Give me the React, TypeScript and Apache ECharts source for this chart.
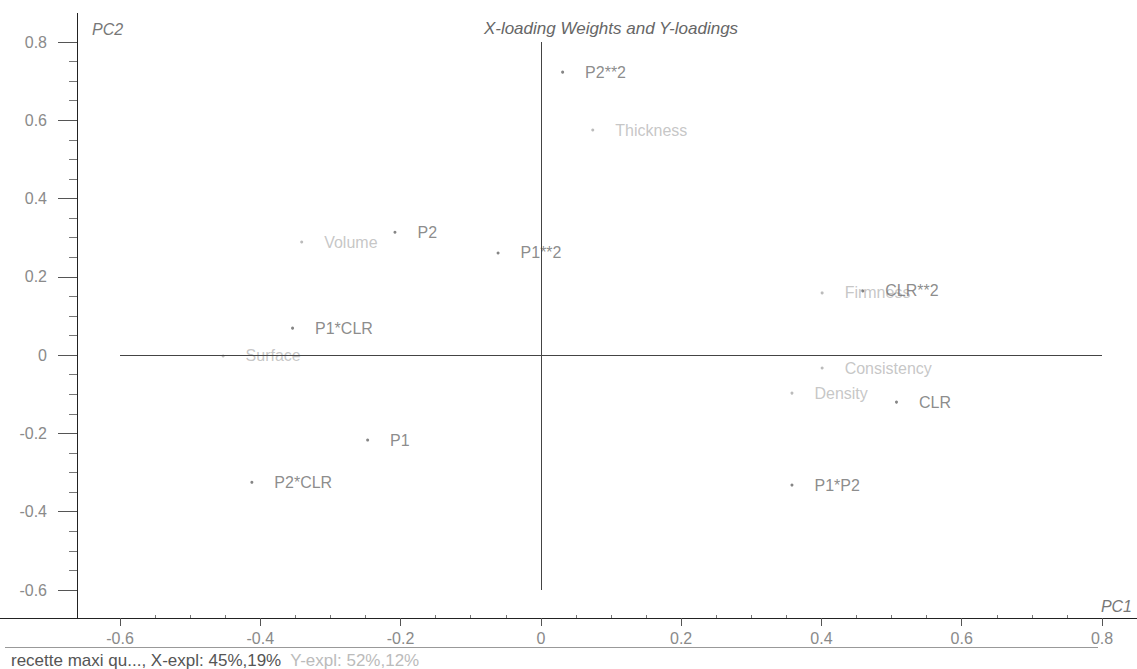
import { useEffect, useRef } from 'react';
import * as echarts from 'echarts';

// PLS loading plot: X-loading weights (process factors) and Y-loadings (responses)
const chartTitle = 'X-loading Weights and Y-loadings';
const xAxisTitle = 'PC1';
const yAxisTitle = 'PC2';

const pcMin = -0.6;
const pcMax = 0.8;
const pcStep = 0.2;

const xWeightNames = ['P1', 'P2', 'CLR', 'P1**2', 'P2**2', 'CLR**2', 'P1*P2', 'P1*CLR', 'P2*CLR'];
const xWeightPC1 = [-0.247, -0.208, 0.507, -0.061, 0.031, 0.459, 0.358, -0.354, -0.412];
const xWeightPC2 = [-0.217, 0.314, -0.12, 0.261, 0.723, 0.164, -0.332, 0.069, -0.325];

const yLoadingNames = ['Volume', 'Thickness', 'Surface', 'Firmness', 'Consistency', 'Density'];
const yLoadingPC1 = [-0.341, 0.074, -0.453, 0.401, 0.401, 0.358];
const yLoadingPC2 = [0.289, 0.575, -0.002, 0.159, -0.033, -0.097];

const footerModel = 'recette maxi qu..., X-expl: 45%,19%';
const footerResponse = 'Y-expl: 52%,12%';

const FONT = 'Arial, "Liberation Sans", Helvetica, sans-serif';

function toPoints(names: string[], pc1: number[], pc2: number[]) {
  return names.map((name, i) => ({ name, value: [pc1[i], pc2[i]] }));
}

export default function App() {
  const ref = useRef<HTMLDivElement>(null);

  useEffect(() => {
    if (!ref.current) return;
    const chart = echarts.init(ref.current, undefined, { renderer: 'svg' });

    const axisLineColor = '#222';
    const tickLabel = { fontSize: 16, color: '#8a8a8a', fontFamily: FONT };

    const option: any = {
      animation: false,
      backgroundColor: '#ffffff',
      textStyle: { fontFamily: FONT },
      title: {
        text: chartTitle,
        left: 611,
        top: 20,
        textAlign: 'center',
        padding: 0,
        textStyle: {
          fontSize: 17,
          fontStyle: 'italic',
          fontWeight: 'normal',
          color: '#666',
          fontFamily: FONT,
        },
      },
      grid: { left: 120, right: 35, top: 42, bottom: 79 },
      xAxis: {
        type: 'value',
        min: pcMin,
        max: pcMax,
        interval: pcStep,
        offset: 28,
        axisLine: { onZero: false, lineStyle: { color: axisLineColor, width: 1 } },
        axisTick: { show: true, length: 8, lineStyle: { color: '#555' } },
        minorTick: { show: true, splitNumber: 4, length: -3, lineStyle: { color: '#777' } },
        axisLabel: { margin: 12, ...tickLabel },
        splitLine: { show: false },
      },
      yAxis: {
        type: 'value',
        min: pcMin,
        max: pcMax,
        interval: pcStep,
        offset: 43,
        axisLine: { onZero: false, lineStyle: { color: axisLineColor, width: 1 } },
        axisTick: { show: true, length: 19, lineStyle: { color: '#555' } },
        minorTick: { show: true, splitNumber: 4, length: 8, lineStyle: { color: '#777' } },
        axisLabel: { margin: 30, ...tickLabel },
        splitLine: { show: false },
      },
      series: [
        {
          name: 'X-loading Weights',
          type: 'scatter',
          symbol: 'circle',
          symbolSize: 3,
          itemStyle: { color: '#666' },
          label: {
            show: true,
            position: 'right',
            distance: 21,
            formatter: '{b}',
            fontSize: 16,
            color: '#6e6e6e',
            fontFamily: FONT,
          },
          data: toPoints(xWeightNames, xWeightPC1, xWeightPC2),
          markLine: {
            silent: true,
            symbol: ['none', 'none'],
            label: { show: false },
            lineStyle: { color: '#444', type: 'solid', width: 1 },
            data: [{ xAxis: 0 }, { yAxis: 0 }],
          },
          z: 3,
        },
        {
          name: 'Y-loadings',
          type: 'scatter',
          symbol: 'circle',
          symbolSize: 3,
          itemStyle: { color: '#aaa' },
          label: {
            show: true,
            position: 'right',
            distance: 21,
            formatter: '{b}',
            fontSize: 16,
            color: '#b8b8b8',
            fontFamily: FONT,
          },
          data: toPoints(yLoadingNames, yLoadingPC1, yLoadingPC2),
          z: 2,
        },
      ],
      graphic: [
        // axis lines continue past the plotted range
        { type: 'line', silent: true, shape: { x1: 77.5, y1: 13, x2: 77.5, y2: 42 }, style: { stroke: axisLineColor, lineWidth: 1 } },
        { type: 'line', silent: true, shape: { x1: 77.5, y1: 590, x2: 77.5, y2: 618 }, style: { stroke: axisLineColor, lineWidth: 1 } },
        { type: 'line', silent: true, shape: { x1: 0, y1: 618.5, x2: 120, y2: 618.5 }, style: { stroke: axisLineColor, lineWidth: 1 } },
        { type: 'line', silent: true, shape: { x1: 1102, y1: 618.5, x2: 1137, y2: 618.5 }, style: { stroke: axisLineColor, lineWidth: 1 } },
        // rule above the status line
        { type: 'line', silent: true, shape: { x1: 5, y1: 647.5, x2: 1098, y2: 647.5 }, style: { stroke: '#999', lineWidth: 1 } },
        {
          type: 'text',
          silent: true,
          x: 92,
          y: 29,
          style: {
            text: yAxisTitle,
            fontSize: 16,
            fontStyle: 'italic',
            fill: '#777',
            fontFamily: FONT,
            verticalAlign: 'middle',
            align: 'left',
          },
        },
        {
          type: 'text',
          silent: true,
          x: 1132,
          y: 606,
          style: {
            text: xAxisTitle,
            fontSize: 16,
            fontStyle: 'italic',
            fill: '#777',
            fontFamily: FONT,
            verticalAlign: 'middle',
            align: 'right',
          },
        },
        {
          type: 'text',
          silent: true,
          x: 11,
          y: 660,
          style: {
            text: `{m|${footerModel}}{r|  ${footerResponse}}`,
            fontFamily: FONT,
            verticalAlign: 'middle',
            align: 'left',
            rich: {
              m: { fontSize: 17, fill: '#555', color: '#555', fontFamily: FONT },
              r: { fontSize: 17, fill: '#bbb', color: '#bbb', fontFamily: FONT },
            },
          },
        },
      ],
    };

    chart.setOption(option);
    return () => {
      chart.dispose();
    };
  }, []);

  return (
    <div
      ref={ref}
      style={{ position: 'fixed', left: 0, top: 0, width: 1137, height: 669, background: '#fff' }}
    />
  );
}
